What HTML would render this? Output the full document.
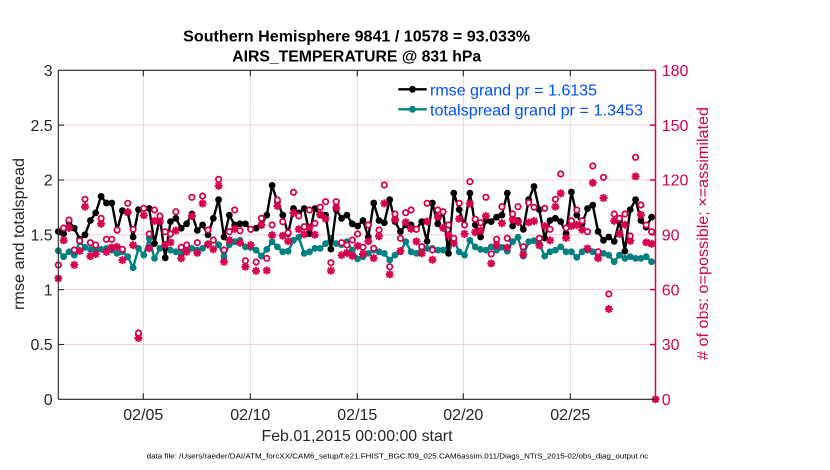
<!DOCTYPE html>
<html><head><meta charset="utf-8"><style>
html,body{margin:0;padding:0;background:#fff;}
svg{display:block;}
text{font-family:"Liberation Sans",Arial,Helvetica,sans-serif;}
</style></head><body>
<svg id="c" xmlns="http://www.w3.org/2000/svg" width="830" height="470" viewBox="0 0 830 470">
<rect width="830" height="470" fill="#fff"/>
<!-- grid -->
<g stroke="#f6cdda" stroke-width="1">
<line x1="58.3" y1="344.5" x2="655.5" y2="344.5"/>
<line x1="58.3" y1="289.6" x2="655.5" y2="289.6"/>
<line x1="58.3" y1="234.8" x2="655.5" y2="234.8"/>
<line x1="58.3" y1="180" x2="655.5" y2="180"/>
<line x1="58.3" y1="125.1" x2="655.5" y2="125.1"/>
</g>
<g stroke="#dadada" stroke-width="1">
<line x1="143.3" y1="70.3" x2="143.3" y2="399.3"/>
<line x1="250.3" y1="70.3" x2="250.3" y2="399.3"/>
<line x1="357.3" y1="70.3" x2="357.3" y2="399.3"/>
<line x1="463.3" y1="70.3" x2="463.3" y2="399.3"/>
<line x1="570.3" y1="70.3" x2="570.3" y2="399.3"/>
</g>
<g id="data"></g>
<!-- axes -->
<g stroke="#262626" stroke-width="1.1" fill="none">
<line x1="58.3" y1="70.3" x2="58.3" y2="399.3"/>
<line x1="58.3" y1="399.3" x2="655.5" y2="399.3"/>
<line x1="58.3" y1="70.3" x2="655.5" y2="70.3"/>
<line x1="58.3" y1="344.5" x2="64" y2="344.5"/>
<line x1="58.3" y1="289.6" x2="64" y2="289.6"/>
<line x1="58.3" y1="234.8" x2="64" y2="234.8"/>
<line x1="58.3" y1="180" x2="64" y2="180"/>
<line x1="58.3" y1="125.1" x2="64" y2="125.1"/>
<line x1="143.3" y1="399.3" x2="143.3" y2="393.3"/>
<line x1="250.3" y1="399.3" x2="250.3" y2="393.3"/>
<line x1="357.3" y1="399.3" x2="357.3" y2="393.3"/>
<line x1="463.3" y1="399.3" x2="463.3" y2="393.3"/>
<line x1="570.3" y1="399.3" x2="570.3" y2="393.3"/>
<line x1="143.3" y1="70.3" x2="143.3" y2="76.3"/>
<line x1="250.3" y1="70.3" x2="250.3" y2="76.3"/>
<line x1="357.3" y1="70.3" x2="357.3" y2="76.3"/>
<line x1="463.3" y1="70.3" x2="463.3" y2="76.3"/>
<line x1="570.3" y1="70.3" x2="570.3" y2="76.3"/>
</g>
<g stroke="#d6004f" stroke-width="1.5" fill="none">
<line x1="655.5" y1="70.3" x2="655.5" y2="399.3"/>
<line x1="655.5" y1="344.5" x2="650" y2="344.5"/>
<line x1="655.5" y1="289.6" x2="650" y2="289.6"/>
<line x1="655.5" y1="234.8" x2="650" y2="234.8"/>
<line x1="655.5" y1="180" x2="650" y2="180"/>
<line x1="655.5" y1="125.1" x2="650" y2="125.1"/>
<line x1="655.5" y1="70.3" x2="650" y2="70.3"/>
</g>
<!-- title -->
<text x="356.7" y="41.7" font-size="16" font-weight="bold" text-anchor="middle" fill="#000" textLength="347" lengthAdjust="spacingAndGlyphs">Southern Hemisphere 9841 / 10578 = 93.033%</text>
<text x="356.7" y="61.7" font-size="16" font-weight="bold" text-anchor="middle" fill="#000" textLength="249" lengthAdjust="spacingAndGlyphs">AIRS_TEMPERATURE @ 831 hPa</text>
<!-- left tick labels -->
<g font-size="16" fill="#262626" text-anchor="end">
<text x="52.7" y="405">0</text>
<text x="52.7" y="350.2">0.5</text>
<text x="52.7" y="295.3">1</text>
<text x="52.7" y="240.5">1.5</text>
<text x="52.7" y="185.7">2</text>
<text x="52.7" y="130.8">2.5</text>
<text x="52.7" y="76">3</text>
</g>
<!-- right tick labels -->
<g font-size="16" fill="#d6004f" text-anchor="start">
<text x="661.7" y="405">0</text>
<text x="661.7" y="350.2">30</text>
<text x="661.7" y="295.3">60</text>
<text x="661.7" y="240.5">90</text>
<text x="661.7" y="185.7">120</text>
<text x="661.7" y="130.8">150</text>
<text x="661.7" y="76">180</text>
</g>
<!-- x tick labels -->
<g font-size="16" fill="#262626" text-anchor="middle">
<text x="143.3" y="420">02/05</text>
<text x="250.3" y="420">02/10</text>
<text x="357.3" y="420">02/15</text>
<text x="463.3" y="420">02/20</text>
<text x="570.3" y="420">02/25</text>
</g>
<text x="357" y="441" font-size="16" fill="#262626" text-anchor="middle" textLength="191" lengthAdjust="spacingAndGlyphs">Feb.01,2015 00:00:00 start</text>
<text transform="translate(24,234) rotate(-90)" font-size="16" fill="#262626" text-anchor="middle" textLength="152" lengthAdjust="spacingAndGlyphs">rmse and totalspread</text>
<text transform="translate(708,233.5) rotate(-90)" font-size="16" fill="#d6004f" text-anchor="middle" textLength="253" lengthAdjust="spacingAndGlyphs"># of obs: o=possible; ×=assimilated</text>
<text x="146.7" y="458.3" font-size="7" fill="#000" textLength="501.6" lengthAdjust="spacingAndGlyphs">data file: /Users/raeder/DAI/ATM_forcXX/CAM6_setup/f.e21.FHIST_BGC.f09_025.CAM6assim.011/Diags_NTrS_2015-02/obs_diag_output.nc</text>
<!-- legend -->
<line x1="398.3" y1="89.3" x2="426.7" y2="89.3" stroke="#000" stroke-width="2.4"/>
<circle cx="412.5" cy="89.3" r="3.4" fill="#000"/>
<line x1="398.3" y1="109.3" x2="426.7" y2="109.3" stroke="#008080" stroke-width="2.4"/>
<circle cx="412.5" cy="109.3" r="3.4" fill="#008080"/>
<text x="430" y="95.5" font-size="16" fill="#0050ff" textLength="167" lengthAdjust="spacingAndGlyphs">rmse grand pr = 1.6135</text>
<text x="430" y="115.5" font-size="16" fill="#0050ff" textLength="213" lengthAdjust="spacingAndGlyphs">totalspread grand pr = 1.3453</text>
</svg>
<script>
(function(){
var rm=[1.53,1.51,1.62,1.56,1.46,1.50,1.63,1.70,1.85,1.79,1.79,1.54,1.72,1.70,1.48,1.73,1.74,1.74,1.42,1.66,1.29,1.62,1.65,1.56,1.60,1.69,1.54,1.59,1.50,1.65,1.82,1.48,1.68,1.59,1.60,1.60,1.55,1.56,1.59,1.68,1.95,1.80,1.68,1.51,1.74,1.70,1.74,1.51,1.74,1.68,1.68,1.37,1.73,1.65,1.68,1.60,1.58,1.63,1.48,1.79,1.63,1.61,1.82,1.62,1.53,1.59,1.59,1.55,1.62,1.44,1.79,1.60,1.71,1.33,1.88,1.73,1.59,1.88,1.59,1.48,1.63,1.62,1.66,1.68,1.88,1.58,1.63,1.55,1.82,1.94,1.73,1.47,1.63,1.65,1.62,1.51,1.89,1.68,1.60,1.74,1.77,1.53,1.45,1.48,1.44,1.63,1.35,1.73,1.82,1.63,1.57,1.66];
var ts=[1.355,1.30,1.345,1.315,1.437,1.385,1.367,1.376,1.367,1.376,1.36,1.33,1.345,1.30,1.20,1.376,1.315,1.467,1.285,1.376,1.376,1.36,1.345,1.33,1.36,1.376,1.36,1.376,1.42,1.45,1.41,1.30,1.41,1.437,1.45,1.39,1.385,1.36,1.306,1.367,1.437,1.39,1.345,1.35,1.45,1.477,1.33,1.345,1.376,1.376,1.42,1.467,1.42,1.41,1.437,1.36,1.28,1.30,1.33,1.36,1.345,1.33,1.27,1.315,1.345,1.437,1.345,1.33,1.376,1.376,1.376,1.36,1.36,1.385,1.45,1.345,1.315,1.45,1.39,1.367,1.36,1.39,1.36,1.385,1.35,1.437,1.477,1.306,1.437,1.446,1.42,1.306,1.345,1.36,1.39,1.345,1.345,1.295,1.345,1.36,1.345,1.325,1.33,1.315,1.255,1.315,1.285,1.30,1.285,1.285,1.30,1.255];
var cy=[265,228,220,250,240.7,199.3,242.7,245,218.3,239.3,239.3,230,249.3,203.3,229.3,333,208.3,234,210,216,231.7,234,211.7,247.3,245,197.3,242.7,196,230,240,179.3,250,231.7,210,230.7,260.7,229.3,262,218.3,258.3,225,200,221.7,232.7,192.3,216,226.7,210,223.3,207.3,201.7,262.7,201.7,242.7,245,240,234,247.3,225,248.3,230,185,266.7,214,238.3,212.7,210,229.3,246.7,203.3,250,210,211.7,225,238.3,203.3,225,181.7,219.3,222.7,197.3,254,239.3,206.7,238.3,214,206.7,246.7,202.7,207.3,238.3,208.3,229.3,199.3,174,228,220.7,210,220.7,231.7,166,251.7,177.3,294,214,218.3,214,236,157.3,205,225,231.7];
var ns="http://www.w3.org/2000/svg",g=document.getElementById("data");
function X(i){return 58.3+i*5.345;}
function Y(v){return 399.3-v*109.67;}
function el(t,a){var e=document.createElementNS(ns,t);for(var k in a)e.setAttribute(k,a[k]);g.appendChild(e);return e;}
function line(arr,col){var p=[];for(var i=0;i<arr.length;i++)p.push(X(i).toFixed(1)+","+Y(arr[i]).toFixed(1));
el("polyline",{points:p.join(" "),fill:"none",stroke:col,"stroke-width":"2.4","stroke-linejoin":"round"});
for(var i=0;i<arr.length;i++)el("circle",{cx:X(i).toFixed(1),cy:Y(arr[i]).toFixed(1),r:"3.4",fill:col});}
line(ts,"#008080");
line(rm,"#000");
var M="#d6004f";
function ast(x,y){var s=4.0,d=2.9;
el("path",{d:"M"+(x-s)+","+y+"H"+(x+s)+"M"+x+","+(y-s)+"V"+(y+s)+"M"+(x-d)+","+(y-d)+"L"+(x+d)+","+(y+d)+"M"+(x-d)+","+(y+d)+"L"+(x+d)+","+(y-d),stroke:M,"stroke-width":"2",fill:"none"});}
for(var i=0;i<cy.length;i++){
var f=0.90+0.07*((i*37)%11)/10;
if(i==15)f=0.925;if(i==103)f=0.857;if(i==3)f=0.9;
var ay=399.3-(399.3-cy[i])*f;
ast(X(i),ay);
}
for(var i=0;i<cy.length;i++){
el("circle",{cx:X(i).toFixed(1),cy:cy[i],r:"2.7",fill:"#fff",stroke:M,"stroke-width":"1.8"});
}
ast(655.5,399.3);
el("circle",{cx:"655.5",cy:"399.3",r:"3",fill:M});
})();
</script>
</body></html>
